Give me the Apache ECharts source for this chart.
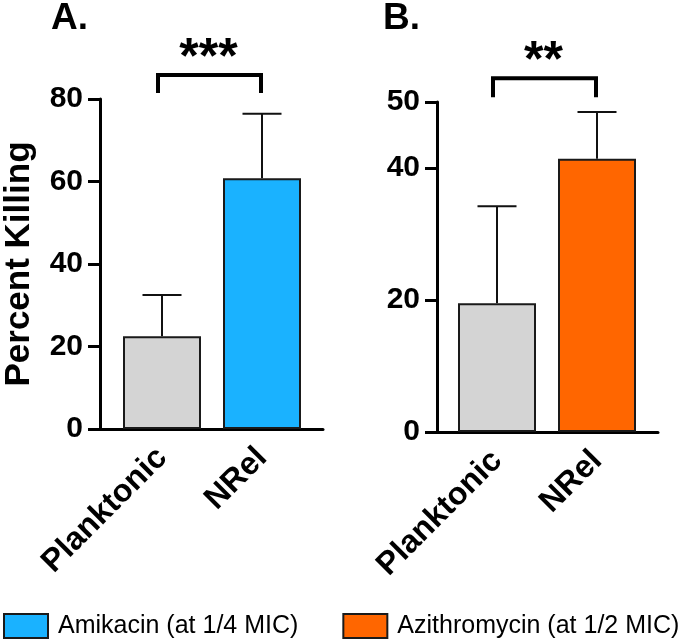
<!DOCTYPE html>
<html>
<head>
<meta charset="utf-8">
<script src="https://cdn.jsdelivr.net/npm/echarts@6.0.0/dist/echarts.min.js"></script>
<style>html,body{margin:0;padding:0;background:#fff}#c{width:688px;height:642px}</style>
</head>
<body>
<div id="c"></div>
<script>
const categories = ['Planktonic', 'NRel'];
const amikacinMean = [22.5, 60.8];
const amikacinErr = [10.0, 15.6];
const azithroMean = [19.5, 41.4];
const azithroErr = [14.7, 7.1];
const yTicksA = [0, 20, 40, 60, 80];
const yTicksB = [0, 20, 40, 50];
const sigA = { from: 0, to: 1, level: 85.8, stars: '***' };
const sigB = { from: 0, to: 1, level: 53.6, stars: '**' };
const seriesNames = ['Amikacin (at 1/4 MIC)', 'Azithromycin (at 1/2 MIC)'];

const FONT = 'Liberation Sans, Arial, sans-serif';
const GREY = '#d4d4d4', BLUE = '#1ab2ff', ORANGE = '#ff6600', EDGE = '#1a1a1a';

const chart = echarts.init(document.getElementById('c'), null, { renderer: 'canvas' });

function barData(means) {
  return means.map((m, i) => ({
    value: [i, m],
    itemStyle: i === 0 ? { color: GREY } : undefined
  }));
}
function errData(means, errs) {
  return means.map((m, i) => [i, m, m + errs[i]]);
}
function errRender(params, api) {
  const x = api.value(0);
  const lo = api.coord([x, api.value(1)]);
  const hi = api.coord([x, api.value(2)]);
  const half = 19.5;
  const st = { stroke: '#111', lineWidth: 2 };
  return { type: 'group', children: [
    { type: 'line', shape: { x1: lo[0], y1: lo[1], x2: hi[0], y2: hi[1] }, style: st },
    { type: 'line', shape: { x1: hi[0] - half, y1: hi[1], x2: hi[0] + half, y2: hi[1] }, style: st }
  ]};
}
function sigRender(sig, dropPx) {
  return function (params, api) {
    const a = api.coord([sig.from, sig.level]);
    const b = api.coord([sig.to, sig.level]);
    const x1 = a[0] - 4, x2 = b[0] - 1, y = a[1];
    const st = { stroke: '#000', lineWidth: 4, lineJoin: 'miter', fill: null };
    return { type: 'group', children: [
      { type: 'polyline', shape: { points: [[x1, y + dropPx], [x1, y], [x2, y], [x2, y + dropPx]] }, style: st },
      { type: 'text', x: (x1 + x2) / 2 - 1, y: y + 9, style: {
          text: sig.stars, font: 'bold 50px ' + FONT, fill: '#000',
          textAlign: 'center', textVerticalAlign: 'bottom' } }
    ]};
  };
}

const axisLineStyle = { color: '#000', width: 3 };
const common = {
  xAxis: (grid, min, max) => ({
    type: 'value', gridIndex: grid, min: min, max: max,
    splitLine: { show: false },
    axisLine: { show: true, onZero: false, lineStyle: axisLineStyle },
    axisTick: { show: false },
    axisLabel: {
      customValues: [0, 1],
      formatter: v => categories[Math.round(v)],
      rotate: 45, margin: 24,
      color: '#000', fontFamily: FONT, fontWeight: 'bold', fontSize: 32
    }
  }),
  yAxis: (grid, max, ticks) => ({
    type: 'value', gridIndex: grid, min: 0, max: max, interval: 10,
    splitLine: { show: false },
    axisLine: { show: true, onZero: false, lineStyle: axisLineStyle },
    axisTick: { show: true, length: 12, lineStyle: { color: '#000', width: 3 }, customValues: ticks },
    axisLabel: { customValues: ticks, margin: 17, color: '#000', fontFamily: FONT, fontWeight: 'bold', fontSize: 30 }
  })
};

const yA = common.yAxis(0, 80, yTicksA);
yA.name = 'Percent Killing';
yA.nameLocation = 'middle';
yA.nameGap = 63;
yA.nameTextStyle = { color: '#000', fontFamily: FONT, fontWeight: 'bold', fontSize: 35 };

chart.setOption({
  animation: false,
  backgroundColor: '#fff',
  title: [
    { text: 'A.', left: 51, top: 0, padding: 0, textStyle: { fontFamily: FONT, fontWeight: 'bold', fontSize: 37, color: '#000' } },
    { text: 'B.', left: 383, top: 0, padding: 0, textStyle: { fontFamily: FONT, fontWeight: 'bold', fontSize: 37, color: '#000' } }
  ],
  legend: {
    data: seriesNames,
    left: 3, top: 613, padding: 0,
    itemWidth: 44, itemHeight: 24, itemGap: 44,
    icon: 'rect',
    itemStyle: { borderColor: EDGE, borderWidth: 2 },
    textStyle: { fontFamily: FONT, fontSize: 25, color: '#000', padding: [0, 0, 0, 5] },
    selectedMode: false
  },
  grid: [
    { left: 100, top: 99, width: 223, height: 330 },
    { left: 437, top: 102, width: 221, height: 330 }
  ],
  xAxis: [common.xAxis(0, -0.62, 1.61), common.xAxis(1, -0.60, 1.61)],
  yAxis: [yA, common.yAxis(1, 50, yTicksB)],
  series: [
    { name: seriesNames[0], type: 'bar', xAxisIndex: 0, yAxisIndex: 0, barWidth: 78,
      itemStyle: { color: BLUE, borderColor: EDGE, borderWidth: 2 },
      data: barData(amikacinMean) },
    { name: seriesNames[1], type: 'bar', xAxisIndex: 1, yAxisIndex: 1, barWidth: 78,
      itemStyle: { color: ORANGE, borderColor: EDGE, borderWidth: 2 },
      data: barData(azithroMean) },
    { type: 'custom', xAxisIndex: 0, yAxisIndex: 0, renderItem: errRender, data: errData(amikacinMean, amikacinErr), z: 1 },
    { type: 'custom', xAxisIndex: 1, yAxisIndex: 1, renderItem: errRender, data: errData(azithroMean, azithroErr), z: 1 },
    { type: 'custom', xAxisIndex: 0, yAxisIndex: 0, clip: false, renderItem: sigRender(sigA, 18), data: [[0, sigA.level]] },
    { type: 'custom', xAxisIndex: 1, yAxisIndex: 1, clip: false, renderItem: sigRender(sigB, 19), data: [[0, sigB.level]] }
  ]
});
</script>
</body>
</html>
